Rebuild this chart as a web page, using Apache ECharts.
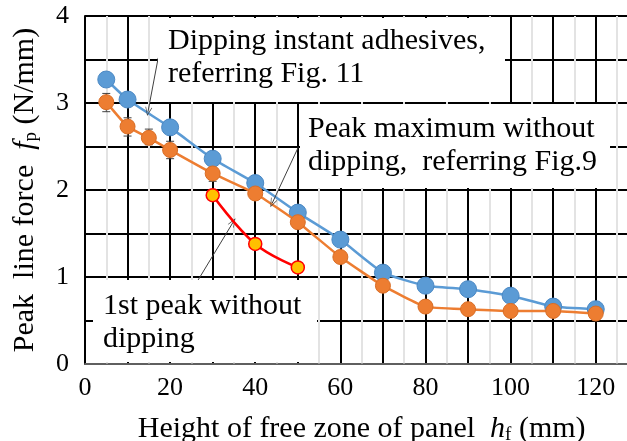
<!DOCTYPE html>
<html><head><meta charset="utf-8">
<script src="https://cdn.jsdelivr.net/npm/echarts@6/dist/echarts.min.js"></script>
<style>html,body{margin:0;padding:0;background:#fff}#c{width:627px;height:441px}</style>
</head><body><div id="c"></div>
<script>
// Dipping instant adhesives (blue)
const dipX = [5,10,20,30,40,50,60,70,80,90,100,110,120];
const dipY = [3.27,3.04,2.72,2.36,2.08,1.74,1.43,1.05,0.90,0.86,0.785,0.66,0.63];
// Peak maximum without dipping (orange)
const peakX = [5,10,15,20,30,40,50,60,70,80,90,100,110,120];
const peakY = [3.01,2.73,2.60,2.46,2.19,1.96,1.63,1.23,0.90,0.66,0.63,0.61,0.61,0.58];
// error bars of orange series
const errX = [5,10,15,20,30];
const errLow = [2.90,2.62,2.52,2.36,2.10];
const errHigh = [3.11,2.83,2.70,2.56,2.28];
// 1st peak without dipping (red/yellow)
const firstX = [30,40,50];
const firstY = [1.94,1.38,1.11];
// tick labels
const yTicks = [0,1,2,3,4];
const xTicks = [0,20,40,60,80,100,120];
// annotation arrows (data coordinates: from -> to)
const arrowFrom = [[17.2,3.52],[50.1,2.49],[25.4,0.87]];
const arrowTo   = [[14.8,2.90],[44.0,1.85],[34.8,1.63]];

const F = '"Liberation Serif","Times New Roman",serif';
const zip = (xs, ys) => xs.map((x,i)=>[x, ys[i]]);
const chart = echarts.init(document.getElementById('c'));
const arrowSym = 'path://M5,0 L10,10 L9,10 L5,2 L1,10 L0,10 Z';
const nameRich = {
  t:{fontFamily:F, fontSize:30, color:'#000', lineHeight:32},
  i:{fontFamily:F, fontSize:30, fontStyle:'italic', color:'#000', lineHeight:32},
  s:{fontFamily:F, fontSize:19, color:'#000', verticalAlign:'bottom', lineHeight:19}
};

chart.setOption({
  animation:false,
  backgroundColor:'#fff',
  grid:{left:85, top:16, bottom:77, width:553.3, outerBoundsMode:'none', containLabel:false},
  xAxis:{
    type:'value', min:0, max:130, interval:10,
    axisLine:{show:true, onZero:false, lineStyle:{color:'#7f7f7f', width:1.5}},
    axisTick:{show:false},
    axisLabel:{formatter:v => xTicks.includes(v) ? String(v) : '', fontFamily:F, fontSize:26, color:'#000', margin:11, showMaxLabel:false},
    splitLine:{show:true, lineStyle:{color:'#000', width:2}},
    minorTick:{show:false, splitNumber:2},
    minorSplitLine:{show:true, lineStyle:{color:'#e3e3e3', width:2}},
    name:'{t|Height of free zone of panel  }{i|h}{s|f}{t| (mm)}',
    nameLocation:'middle', nameGap:49,
    nameTextStyle:{rich:nameRich}
  },
  yAxis:{
    type:'value', min:0, max:4, interval:0.5,
    axisLine:{show:true, lineStyle:{color:'#000', width:2}},
    axisTick:{show:false},
    axisLabel:{formatter:v => yTicks.includes(v) ? String(v) : '', fontFamily:F, fontSize:26, color:'#000', margin:16},
    splitLine:{show:true, lineStyle:{color:'#000', width:2}},
    name:'{t|Peak  line force  }{i|f}{s|p}{t| (N/mm)}',
    nameLocation:'middle', nameGap:44, nameRotate:90,
    nameTextStyle:{rich:nameRich}
  },
  series:[
    {type:'line', name:'dip', data:zip(dipX, dipY), smooth:0.15,
     symbol:'circle', symbolSize:17,
     lineStyle:{color:'#5B9BD5', width:2.5},
     itemStyle:{color:'#5B9BD5', borderColor:'#4a88c4', borderWidth:1}, z:3},
    {type:'custom', name:'err', data:errX.map((x,i)=>[x, errLow[i], errHigh[i]]), z:3,
     renderItem:(p, api) => {
       const lo = api.coord([api.value(0), api.value(1)]);
       const hi = api.coord([api.value(0), api.value(2)]);
       const w = 4;
       const st = {stroke:'#404040', lineWidth:1};
       return {type:'group', children:[
         {type:'line', shape:{x1:lo[0], y1:lo[1], x2:hi[0], y2:hi[1]}, style:st},
         {type:'line', shape:{x1:lo[0]-w, y1:lo[1], x2:lo[0]+w, y2:lo[1]}, style:st},
         {type:'line', shape:{x1:hi[0]-w, y1:hi[1], x2:hi[0]+w, y2:hi[1]}, style:st}
       ]};
     }},
    {type:'line', name:'peak', data:zip(peakX, peakY), smooth:0.15,
     symbol:'circle', symbolSize:15,
     lineStyle:{color:'#ED7D31', width:2.5},
     itemStyle:{color:'#ED7D31', borderColor:'#d96d25', borderWidth:1}, z:4},
    {type:'line', name:'first', data:zip(firstX, firstY), smooth:0.4,
     symbol:'circle', symbolSize:13,
     lineStyle:{color:'#FF0000', width:2.5},
     itemStyle:{color:'#FFC000', borderColor:'#FF0000', borderWidth:1.5}, z:5,
     markLine:{silent:true, animation:false, symbol:['none', arrowSym], symbolSize:[7,9],
       label:{show:false}, lineStyle:{color:'#404040', width:1, type:'solid'},
       data:arrowFrom.map((f,i)=>[{coord:f}, {coord:arrowTo[i]}])}}
  ],
  graphic:[
    {type:'rect', shape:{x:158, y:18, width:347, height:84}, style:{fill:'#fff'}, z:50},
    {type:'text', x:168, y:24.5, z:51, style:{text:'Dipping instant adhesives,\nreferring Fig. 11', font:'30px "Liberation Serif"', fill:'#000', lineHeight:33, align:'left', verticalAlign:'top'}},
    {type:'rect', shape:{x:300, y:104, width:310, height:84}, style:{fill:'#fff'}, z:50},
    {type:'text', x:308, y:112.8, z:51, style:{text:'Peak maximum without\ndipping,  referring Fig.9', font:'30px "Liberation Serif"', fill:'#000', lineHeight:33, align:'left', verticalAlign:'top'}},
    {type:'rect', shape:{x:93, y:280, width:224, height:82}, style:{fill:'#fff'}, z:50},
    {type:'text', x:103, y:289.5, z:51, style:{text:'1st peak without\ndipping', font:'30px "Liberation Serif"', fill:'#000', lineHeight:33, align:'left', verticalAlign:'top'}}
  ]
});
</script></body></html>
